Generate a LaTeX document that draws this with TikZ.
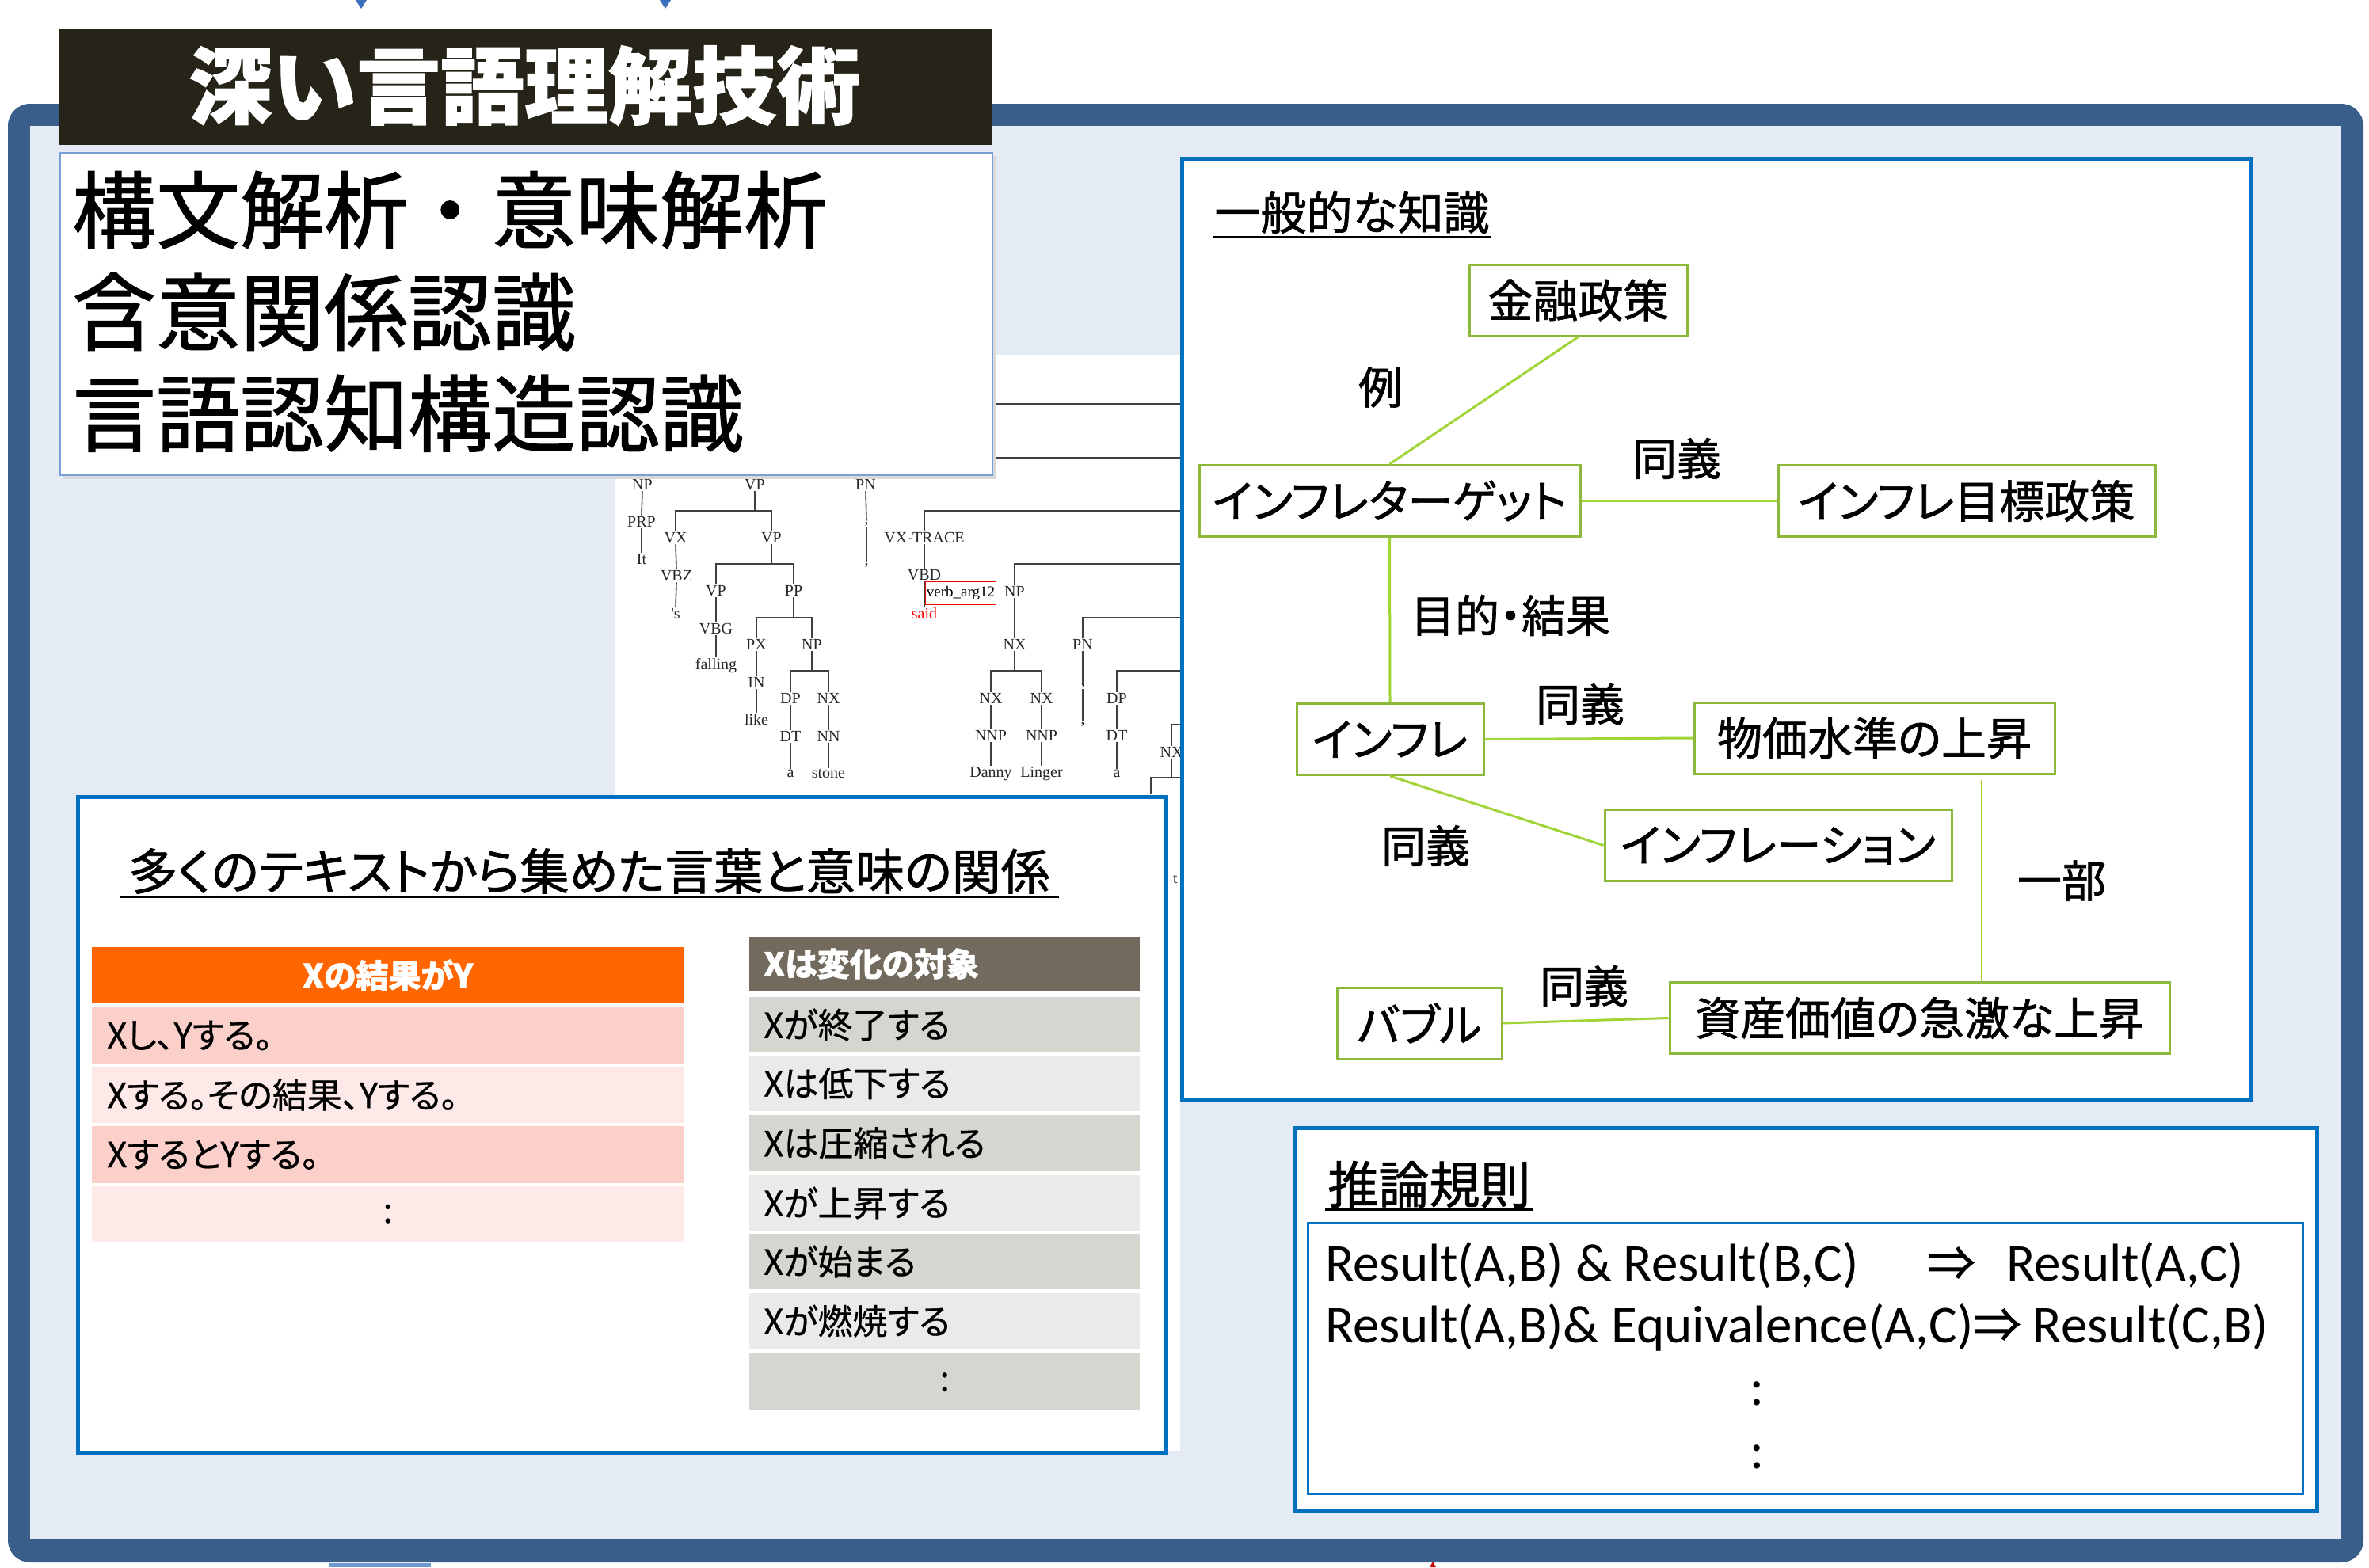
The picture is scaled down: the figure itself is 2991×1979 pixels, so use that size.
\documentclass[tikz,border=0pt]{standalone}
\usepackage{fontspec}
\setmainfont{Noto Sans CJK JP}[FakeBold=1.2]
\newfontfamily\jpp[RawFeature=+palt,FakeBold=1.2]{Noto Sans CJK JP}
\newfontfamily\jpt[RawFeature=+palt,FakeBold=0.6]{Noto Sans CJK JP}
\newfontfamily\latfnt{Carlito}
\newfontfamily\treefnt{Liberation Serif}
\newcommand\fsz[1]{\fontsize{#1}{#1}\selectfont}
\definecolor{frameblue}{RGB}{58,94,138}
\definecolor{bgblue}{RGB}{228,235,245}
\definecolor{panelblue}{RGB}{0,112,192}
\definecolor{titleblack}{RGB}{38,36,24}
\definecolor{boxgreen}{RGB}{140,184,60}
\definecolor{linegreen}{RGB}{160,212,55}
\definecolor{orangeh}{RGB}{255,102,0}
\definecolor{pinkdark}{RGB}{252,208,202}
\definecolor{pinklight}{RGB}{253,233,231}
\definecolor{grayh}{RGB}{114,106,92}
\definecolor{graydark}{RGB}{214,213,208}
\definecolor{graylight}{RGB}{234,234,232}
\definecolor{lightborder}{RGB}{120,160,215}
\definecolor{tipblue}{RGB}{60,110,190}
\definecolor{fragblue}{RGB}{110,150,210}
\begin{document}
\begin{tikzpicture}[x=1pt,y=-1pt,
  treelbl/.style={font=\treefnt\fsz{20}, inner sep=1.5, text=black!85},
  treeln/.style={draw=black!75, line width=1.6},
  gbox/.style={draw=boxgreen, line width=3, fill=white, inner sep=0, font=\jpp\fsz{57}, minimum height=90},
  glink/.style={draw=linegreen, line width=3},
  elbl/.style={font=\jpp\fsz{56}, inner sep=0},
  panel/.style={draw=panelblue, line width=5, fill=white, inner sep=0, anchor=north west},
  cell/.style={inner sep=0, anchor=north west},
  ctext/.style={font=\jpt\fsz{44}, inner sep=0, anchor=west},
  htext/.style={font=\bfseries\jpp\fsz{41}, inner sep=0, text=white},
  rtext/.style={font=\latfnt\fsz{67}, inner sep=0, anchor=base west},
]
\useasboundingbox (0,0) rectangle (2991,1979);
\fill[white] (0,0) rectangle (2991,1979);
% fragments at the edges
\fill[tipblue] (449,0) -- (463,0) -- (456,11) -- cycle;
\fill[tipblue] (833,0) -- (847,0) -- (840,11) -- cycle;
% outer frame
\fill[frameblue, rounded corners=28] (10,131) rectangle (2984,1973);
\fill[bgblue] (38,159) rectangle (2956,1944);
\fill[fragblue] (416,1974) rectangle (544,1979);
\fill[red!80!black] (1805,1979) -- (1809,1972) -- (1813,1979) -- cycle;

% ---------- parse tree image ----------
\fill[white] (776,448) rectangle (1490,1832);
\coordinate (b645) at (0,645);
\coordinate (b712) at (0,712);
\coordinate (b780) at (0,780);
\coordinate (b847) at (0,847);
\coordinate (b982) at (0,982);
\coordinate (e645) at (1500,645);
\coordinate (e712) at (1500,712);
\coordinate (e780) at (1500,780);
\coordinate (e847) at (1500,847);
\coordinate (e915) at (1500,915);
\coordinate (e982) at (1500,982);
\coordinate (u1a) at (1240,510);
\coordinate (u1b) at (1500,510);
\coordinate (u2a) at (1240,578);
\coordinate (u2b) at (1500,578);
\coordinate (c1453) at (1453,1002);
\node[treelbl] (t1) at (811,612) {NP};
\node[treelbl] (t2) at (953,612) {VP};
\node[treelbl] (t3) at (1093,612) {PN};
\node[treelbl] (t4) at (810,659) {PRP};
\node[treelbl] (t5) at (810,706) {It};
\node[treelbl] (t6) at (853,679) {VX};
\node[treelbl] (t7) at (974,679) {VP};
\node[treelbl] (t8) at (854,727) {VBZ};
\node[treelbl] (t9) at (853,775) {'s};
\node[treelbl] (t10) at (904,746) {VP};
\node[treelbl] (t11) at (1002,746) {PP};
\node[treelbl] (t12) at (904,794) {VBG};
\node[treelbl] (t13) at (904,841) {falling};
\node[treelbl] (t14) at (955,814) {PX};
\node[treelbl] (t15) at (1025,814) {NP};
\node[treelbl] (t16) at (955,862) {IN};
\node[treelbl] (t17) at (955,909) {like};
\node[treelbl] (t18) at (998,882) {DP};
\node[treelbl] (t19) at (1046,882) {NX};
\node[treelbl] (t20) at (998,930) {DT};
\node[treelbl] (t21) at (1046,930) {NN};
\node[treelbl] (t22) at (998,977) {a};
\node[treelbl] (t23) at (1046,977) {stone};
\node[treelbl] (t24) at (1094,662) {,};
\node[treelbl] (t25) at (1094,714) {,};
\node[treelbl] (t26) at (1167,679) {VX-TRACE};
\node[treelbl] (t27) at (1167,726) {VBD};
\node[treelbl, text=red] (t28) at (1167,775) {said};
\node[draw=red, line width=1.5, inner sep=1.5, minimum height=29, font=\treefnt\fsz{19}] (t29) at (1213,749) {verb\_arg12};
\node[treelbl] (t30) at (1281,747) {NP};
\node[treelbl] (t31) at (1281,814) {NX};
\node[treelbl] (t32) at (1367,814) {PN};
\node[treelbl] (t33) at (1251,882) {NX};
\node[treelbl] (t34) at (1315,882) {NX};
\node[treelbl] (t35) at (1251,929) {NNP};
\node[treelbl] (t36) at (1315,929) {NNP};
\node[treelbl] (t37) at (1251,977) {Danny};
\node[treelbl] (t38) at (1315,977) {Linger};
\node[treelbl] (t39) at (1367,866) {,};
\node[treelbl] (t40) at (1367,915) {,};
\node[treelbl] (t41) at (1410,882) {DP};
\node[treelbl] (t42) at (1410,929) {DT};
\node[treelbl] (t43) at (1410,977) {a};
\node[treelbl] (t44) at (1479,950) {NX};
\node[treelbl] (t45) at (1484,1110) {t};
\begin{scope}[treeln]
\draw (u1a) -- (u1b);
\draw (u2a) -- (u2b);
\draw (t1.south) -- (t4.north);
\draw (t4.south) -- (t5.north);
\draw (t2.south) -- (t2.south |- b645);
\draw (t6.north) |- (t7.north |- b645) -- (t7.north);
\draw (t6.south) -- (t8.north);
\draw (t8.south) -- (t9.north);
\draw (t7.south) -- (t7.south |- b712);
\draw (t10.north) |- (t11.north |- b712) -- (t11.north);
\draw (t10.south) -- (t12.north);
\draw (t12.south) -- (t13.north);
\draw (t11.south) -- (t11.south |- b780);
\draw (t14.north) |- (t15.north |- b780) -- (t15.north);
\draw (t14.south) -- (t16.north);
\draw (t16.south) -- (t17.north);
\draw (t15.south) -- (t15.south |- b847);
\draw (t18.north) |- (t19.north |- b847) -- (t19.north);
\draw (t18.south) -- (t20.north);
\draw (t20.south) -- (t22.north);
\draw (t19.south) -- (t21.north);
\draw (t21.south) -- (t23.north);
\draw (t3.south) -- (t24.north);
\draw (t24.south) -- (t25.north);
\draw (t26.north) |- (e645);
\draw (t26.south) -- (t27.north);
\draw (t27.south) -- (t28.north);
\draw (t30.north) |- (e712);
\draw (t30.south) -- (t31.north);
\draw (t32.north) |- (e780);
\draw (t31.south) -- (t31.south |- b847);
\draw (t33.north) |- (t34.north |- b847) -- (t34.north);
\draw (t33.south) -- (t35.north);
\draw (t35.south) -- (t37.north);
\draw (t34.south) -- (t36.north);
\draw (t36.south) -- (t38.north);
\draw (t32.south) -- (t39.north);
\draw (t39.south) -- (t40.north);
\draw (t41.north) |- (e847);
\draw (t41.south) -- (t42.north);
\draw (t42.south) -- (t43.north);
\draw (t44.north) |- (e915);
\draw (t44.south) -- (t44.south |- b982);
\draw (c1453) |- (e982);
\end{scope}

% ---------- title ----------
\node[fill=titleblack, minimum width=1178, minimum height=146, anchor=north west, inner sep=0] (ttlbox) at (75,37) {};
\node[font=\bfseries\fsz{106}, text=white, inner sep=0] (ttl) at (662,108) {深い言語理解技術};
\fill[black!15] (80,197) rectangle (1258,605);
\node[draw=lightborder, line width=2, fill=white, minimum width=1177, minimum height=407, anchor=north west, inner sep=0] (techbox) at (75,192) {};
\node[font=\fsz{106}, anchor=west, inner sep=0] (l1) at (91,265) {構文解析・意味解析};
\node[font=\fsz{106}, anchor=west, inner sep=0] (l2) at (91,394) {含意関係認識};
\node[font=\fsz{106}, anchor=west, inner sep=0] (l3) at (91,522) {言語認知構造認識};

% ---------- general knowledge panel ----------
\node[panel, minimum width=1350, minimum height=1189] (kpanel) at (1490,198) {};
\node[font=\jpp\fsz{58}, inner sep=0] (kh) at (1707,268) {一般的な知識};
\draw[line width=3] (1532,299) -- (1882,299);
\node[gbox, minimum width=275] (kinyu) at (1992.5,379) {金融政策};
\node[gbox, minimum width=481] (target) at (1754.5,632.5) {インフレターゲット};
\node[gbox, minimum width=476] (mokuhyo) at (2483,632.5) {インフレ目標政策};
\node[gbox, minimum width=236] (infure) at (1755,933.5) {インフレ};
\node[gbox, minimum width=455] (bukka) at (2366.5,932) {物価水準の上昇};
\node[gbox, minimum width=438] (infl) at (2245,1067.5) {インフレーション};
\node[gbox, minimum width=208] (bubble) at (1792,1292) {バブル};
\node[gbox, minimum width=631] (shisan) at (2423.5,1285.5) {資産価値の急激な上昇};
\coordinate (xpart) at (2502,0);
\draw[glink] (kinyu.south) -- (target.north);
\draw[glink] (target.east) -- (mokuhyo.west);
\draw[glink] (target.south) -- (infure.north);
\draw[glink] (infure.east) -- (bukka.west);
\draw[glink] (infure.south) -- (infl.west);
\draw[glink, line width=2, shorten <=6] (bukka.south -| xpart) -- (shisan.north -| xpart);
\draw[glink] (bubble.east) -- (shisan.west);
\node[elbl] (lb1) at (1743,489) {例};
\node[elbl] (lb2) at (2117,579) {同義};
\node[elbl] (lb3) at (1907,777) {目的・結果};
\node[elbl] (lb4) at (1995,889) {同義};
\node[elbl] (lb5) at (1800,1068) {同義};
\node[elbl] (lb6) at (2603,1112) {一部};
\node[elbl] (lb7) at (2000,1245) {同義};

% ---------- text relations panel ----------
\node[panel, minimum width=1374, minimum height=828] (rpanel) at (96,1004) {};
\node[font=\jpp\fsz{62}, inner sep=0] (rh) at (744,1100) {多くのテキストから集めた言葉と意味の関係};
\draw[line width=3] (151,1132) -- (1337,1132);
\node[cell, fill=orangeh, minimum width=747, minimum height=70] (oh) at (116,1196) {};
\node[htext] (oht) at (oh.center) {Xの結果がY};
\node[cell, fill=pinkdark, minimum width=747, minimum height=71] (or1) at (116,1272) {};
\node[cell, fill=pinklight, minimum width=747, minimum height=71] (or2) at (116,1347) {};
\node[cell, fill=pinkdark, minimum width=747, minimum height=72] (or3) at (116,1422) {};
\node[cell, fill=pinklight, minimum width=747, minimum height=71] (or4) at (116,1497) {};
\node[ctext] (ot1) at (135,1307.5) {Xし、Yする。};
\node[ctext] (ot2) at (135,1382.5) {Xする。その結果、Yする。};
\node[ctext] (ot3) at (135,1458) {XするとYする。};
\node[font=\jpt\fsz{44}, inner sep=0] (ot4) at (or4.center) {:};
\node[cell, fill=grayh, minimum width=493, minimum height=68] (gh) at (946,1183) {};
\node[htext, anchor=west] (ght) at (964,1217) {Xは変化の対象};
\node[cell, fill=graydark, minimum width=493, minimum height=70] (gr1) at (946,1259) {};
\node[cell, fill=graylight, minimum width=493, minimum height=70] (gr2) at (946,1333) {};
\node[cell, fill=graydark, minimum width=493, minimum height=71] (gr3) at (946,1408) {};
\node[cell, fill=graylight, minimum width=493, minimum height=70] (gr4) at (946,1484) {};
\node[cell, fill=graydark, minimum width=493, minimum height=70] (gr5) at (946,1558) {};
\node[cell, fill=graylight, minimum width=493, minimum height=70] (gr6) at (946,1633) {};
\node[cell, fill=graydark, minimum width=493, minimum height=72] (gr7) at (946,1709) {};
\node[ctext] (gt1) at (964,1294) {Xが終了する};
\node[ctext] (gt2) at (964,1368) {Xは低下する};
\node[ctext] (gt3) at (964,1443.5) {Xは圧縮される};
\node[ctext] (gt4) at (964,1519) {Xが上昇する};
\node[ctext] (gt5) at (964,1593) {Xが始まる};
\node[ctext] (gt6) at (964,1668) {Xが燃焼する};
\node[font=\jpt\fsz{44}, inner sep=0] (gt7) at (gr7.center) {:};

% ---------- inference rules panel ----------
\node[panel, minimum width=1290, minimum height=484] (ipanel) at (1633,1422) {};
\node[font=\fsz{64}, inner sep=0] (ih) at (1804.5,1495.5) {推論規則};
\draw[line width=3] (1673,1527) -- (1936,1527);
\node[draw=panelblue, line width=2.5, fill=white, minimum width=1256, minimum height=342, anchor=north west, inner sep=0] (ibox) at (1650,1543) {};
\node[rtext] (r1a) at (1673,1617) {Result(A,B) \& Result(B,C)};
\node[font=\fsz{60}, inner sep=0, anchor=base] (r1b) at (2464,1617) {⇒};
\node[rtext] (r1c) at (2533,1617) {Result(A,C)};
\node[rtext] (r2) at (1673,1695) {Result(A,B)\& Equivalence(A,C){\fsz{60}\rmfamily⇒} Result(C,B)};
\node[font=\latfnt\fsz{67}, inner sep=0] (d1) at (2218,1760) {:};
\node[font=\latfnt\fsz{67}, inner sep=0] (d2) at (2218,1840) {:};
\end{tikzpicture}
\end{document}
